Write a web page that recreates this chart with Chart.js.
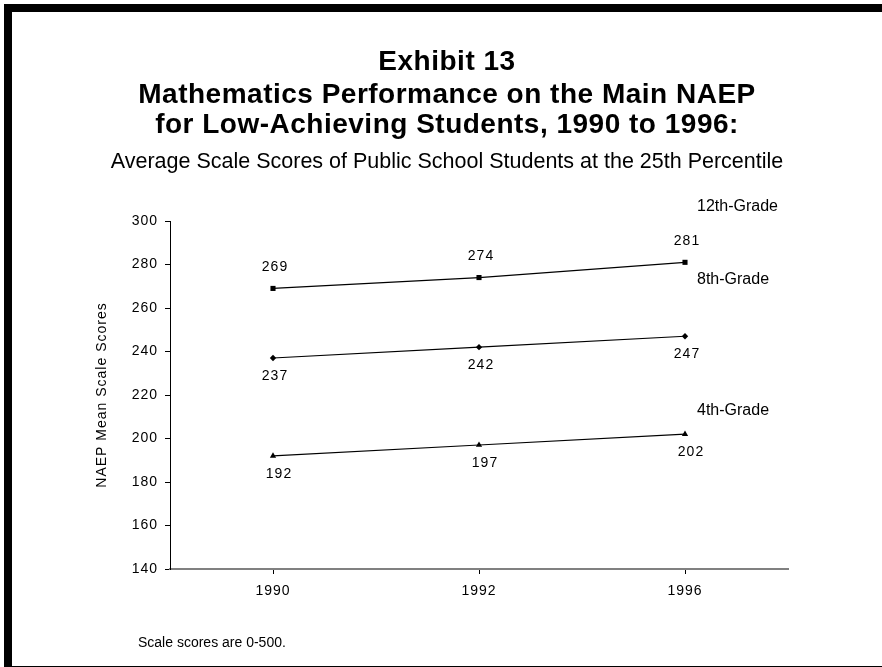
<!DOCTYPE html>
<html>
<head>
<meta charset="utf-8">
<script src="https://cdn.jsdelivr.net/npm/chart.js@4.4.1/dist/chart.umd.min.js"></script>
<style>
  html, body { margin: 0; padding: 0; background: #fff; }
  .page { position: relative; width: 882px; height: 667px; overflow: hidden; }
  .frame {
    position: absolute; left: 4px; top: 4px; width: 870px; height: 654px;
    border-top: 8px solid #000; border-left: 8px solid #000; border-bottom: 1px solid #000;
  }
  canvas { position: absolute; left: 0; top: 0; }
</style>
</head>
<body>
<div class="page">
  <div class="frame"></div>
  <canvas id="chart" width="882" height="667"></canvas>
</div>
<script>
const years = ['1990', '1992', '1996'];
const grade12 = [269, 274, 281];
const grade8 = [237, 242, 247];
const grade4 = [192, 197, 202];
const seriesNames = ['12th-Grade', '8th-Grade', '4th-Grade'];
const yMin = 140, yMax = 300, yStep = 20;
const titleLines = ['Exhibit 13', 'Mathematics Performance on the Main NAEP', 'for Low-Achieving Students, 1990 to 1996:'];
const subtitle = 'Average Scale Scores of Public School Students at the 25th Percentile';
const yTitle = 'NAEP Mean Scale Scores';
const footnote = 'Scale scores are 0-500.';

const FONT = 'Arial, "Liberation Sans", sans-serif';

// where the numbers and series names sit relative to their points
const valueOffsets = [-21, 18, 18];
const valueShifts = [2, 2, 6];
const nameOffsets = [-56, -57, -24];

const textPlugin = {
    id: 'textPlugin',
    beforeDraw: (chart) => {
        chart.ctx.letterSpacing = '1px';
    },
    afterDatasetsDraw: (chart) => {
        const ctx = chart.ctx;
        ctx.save();
        ctx.font = `14px ${FONT}`;
        ctx.fillStyle = '#000';
        ctx.textAlign = 'center';
        ctx.textBaseline = 'middle';
        chart.data.datasets.forEach((ds, i) => {
            chart.getDatasetMeta(i).data.forEach((pt, j) => {
                ctx.fillText(String(ds.data[j]), pt.x + valueShifts[i], pt.y + valueOffsets[i]);
            });
        });
        ctx.restore();
    },
    afterDraw: (chart) => {
        const ctx = chart.ctx;
        const x = chart.scales.x;
        const y = chart.scales.y;
        ctx.save();
        ctx.fillStyle = '#000';
        ctx.textAlign = 'center';
        ctx.textBaseline = 'alphabetic';
        ctx.letterSpacing = '0.5px';
        ctx.font = `bold 28px ${FONT}`;
        const baselines = [70, 103, 133];
        titleLines.forEach((line, i) => ctx.fillText(line, 447, baselines[i]));
        ctx.letterSpacing = '0px';
        ctx.font = `21.5px ${FONT}`;
        ctx.fillText(subtitle, 447, 168);

        ctx.textAlign = 'left';
        ctx.textBaseline = 'middle';
        ctx.font = `16px ${FONT}`;
        const lastX = x.getPixelForValue(years.length - 1);
        chart.data.datasets.forEach((ds, i) => {
            const last = ds.data[ds.data.length - 1];
            ctx.fillText(seriesNames[i], lastX + 12, y.getPixelForValue(last) + nameOffsets[i]);
        });

        ctx.textBaseline = 'alphabetic';
        ctx.font = `14px ${FONT}`;
        ctx.fillText(footnote, 138, 647);
        ctx.restore();
    }
};

const makeSet = (label, data, style, radius) => ({
    label,
    data,
    borderColor: '#000',
    borderWidth: 1.2,
    backgroundColor: '#000',
    pointStyle: style,
    pointRadius: radius,
    pointBackgroundColor: '#000',
    pointBorderColor: '#000',
    pointBorderWidth: 0,
    tension: 0,
    fill: false
});

new Chart(document.getElementById('chart'), {
    type: 'line',
    data: {
        labels: years,
        datasets: [
            makeSet(seriesNames[0], grade12, 'rect', 3.6),
            makeSet(seriesNames[1], grade8, 'rectRot', 3.2),
            makeSet(seriesNames[2], grade4, 'triangle', 3.6)
        ]
    },
    options: {
        responsive: false,
        animation: false,
        layout: {
            padding: { top: 221, left: 94, right: 94, bottom: 0 }
        },
        plugins: {
            legend: { display: false },
            tooltip: { enabled: false }
        },
        scales: {
            x: {
                type: 'category',
                offset: true,
                afterFit: (scale) => { scale.height = 98; },
                grid: {
                    drawOnChartArea: false,
                    drawTicks: true,
                    tickLength: 5,
                    color: '#000',
                    lineWidth: 1
                },
                border: { display: true, color: '#808080', width: 2 },
                ticks: {
                    color: '#000',
                    font: { family: FONT, size: 14 },
                    padding: 9,
                    maxRotation: 0
                }
            },
            y: {
                min: yMin,
                max: yMax,
                afterFit: (scale) => { scale.width = 76; },
                grid: {
                    drawOnChartArea: false,
                    drawTicks: true,
                    tickLength: 5,
                    color: '#000',
                    lineWidth: 1
                },
                border: { display: true, color: '#000', width: 1 },
                ticks: {
                    stepSize: yStep,
                    color: '#000',
                    font: { family: FONT, size: 14 },
                    padding: 7
                },
                title: {
                    display: true,
                    text: yTitle,
                    color: '#000',
                    font: { family: FONT, size: 14 },
                    padding: 0
                }
            }
        }
    },
    plugins: [textPlugin]
});
</script>
</body>
</html>
